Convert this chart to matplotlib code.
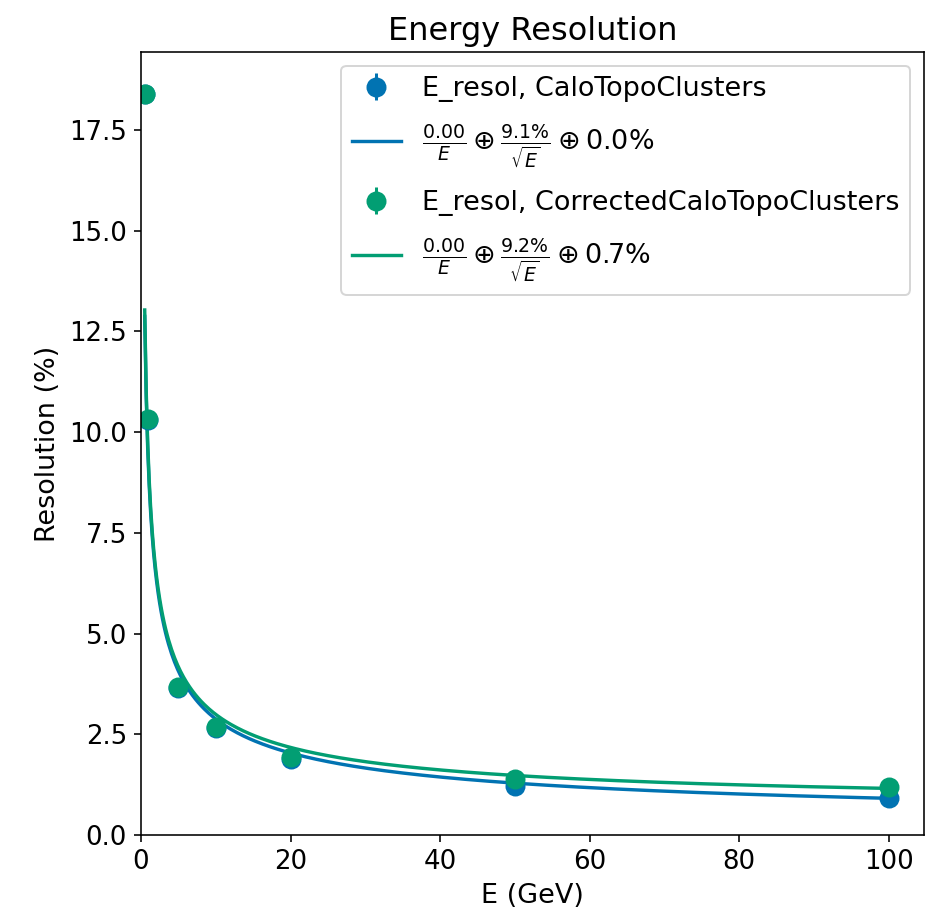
import numpy as np
import matplotlib
matplotlib.use("Agg")
import matplotlib.pyplot as plt

# measured points
energies = [0.5, 1, 5, 10, 20, 50, 100]
resol_topo = [18.38, 10.3, 3.65, 2.66, 1.88, 1.22, 0.93]
resol_topo_err = [0.08, 0.06, 0.03, 0.03, 0.02, 0.02, 0.02]
resol_corr = [18.4, 10.32, 3.68, 2.68, 1.93, 1.38, 1.2]
resol_corr_err = [0.08, 0.06, 0.03, 0.03, 0.02, 0.02, 0.02]

# fit parameters (noise, stochastic %, constant %)
fit_topo = [0.00, 9.1, 0.0]
fit_corr = [0.00, 9.2, 0.7]

blue = "#0173B2"
green = "#029E73"


def resolution(e, a, b, c):
    return np.sqrt((a / e) ** 2 + (b / np.sqrt(e)) ** 2 + c ** 2)


def fit_label(a, b, c):
    return (r"$\frac{%.2f}{E} \oplus \frac{%.1f\%%}{\sqrt{E}} \oplus %.1f\%%$"
            % (a, b, c))


fig = plt.figure(figsize=(925 / 144, 920 / 144), dpi=144)
ax = fig.add_axes([0.1524, 0.0924, 0.8465, 0.851])

e_fine = np.linspace(min(energies), max(energies), 500)

h1 = ax.errorbar(energies, resol_topo, yerr=resol_topo_err, fmt="o", color=blue,
                 markersize=9, label="E_resol, CaloTopoClusters")
h2, = ax.plot(e_fine, resolution(e_fine, *fit_topo), color=blue, lw=1.7,
              label=fit_label(*fit_topo))
h3 = ax.errorbar(energies, resol_corr, yerr=resol_corr_err, fmt="o", color=green,
                 markersize=9, label="E_resol, CorrectedCaloTopoClusters")
h4, = ax.plot(e_fine, resolution(e_fine, *fit_corr), color=green, lw=1.7,
              label=fit_label(*fit_corr))

ax.set_xlim(0, 104.7)
ax.set_ylim(0, 19.43)
ax.set_xlabel("E (GeV)", fontsize=13.5)
ax.set_ylabel("Resolution (%)", fontsize=13.5)
ax.set_title("Energy Resolution", fontsize=16)
ax.tick_params(labelsize=13)
ax.legend(handles=[h1, h2, h3, h4], loc="upper right", fontsize=13.5,
          handlelength=1.8, labelspacing=0.75)

fig.savefig("out.png", dpi=144)
